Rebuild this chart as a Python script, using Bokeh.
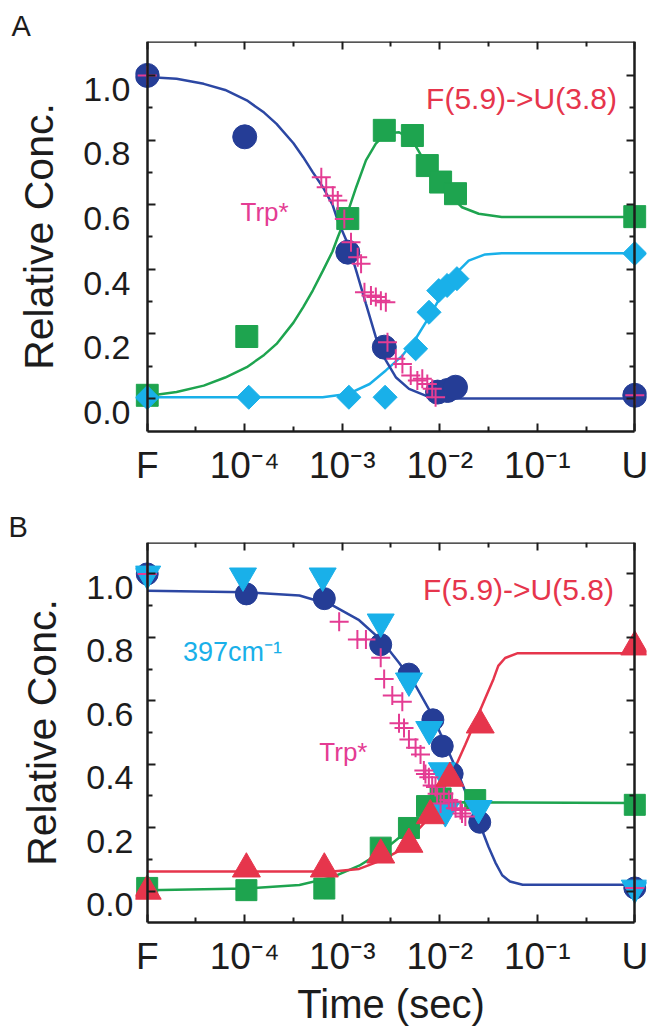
from bokeh.plotting import figure
from bokeh.models import (Range1d, LinearAxis, LogAxis, FixedTicker, Label, Title,
                          CustomJSTickFormatter)
from bokeh.layouts import column
from bokeh.embed import file_html
from bokeh.resources import INLINE

# ---------------- axis definitions ----------------
T_F = 1e-5      # position of the "F" (native) state on the time axis
T_U = 1.0       # position of the "U" (unfolded) state on the time axis
X_TICKS = [1e-5, 1e-4, 1e-3, 1e-2, 1e-1, 1.0]
X_MINOR = [3.16e-5, 3.16e-4, 3.16e-3, 3.16e-2, 0.316]
X_LABELS = ["F", "10\u207b\u2074", "10\u207b\u00b3", "10\u207b\u00b2", "10\u207b\u00b9", "U"]
Y_TICKS = [0.0, 0.2, 0.4, 0.6, 0.8, 1.0]
Y_MINOR = [0.1, 0.3, 0.5, 0.7, 0.9]
Y_LABELS = ["0.0", "0.2", "0.4", "0.6", "0.8", "1.0"]

# ---------------- panel A data ----------------
a_circ_t = [T_F, 1.0e-4, 1.14e-3, 2.7e-3, 9.5e-3, 1.2e-2, 1.45e-2, T_U]
a_circ_y = [1.0, 0.81, 0.453, 0.159, 0.02, 0.025, 0.035, 0.01]

a_sq_t = [T_F, 1.05e-4, 1.14e-3, 2.7e-3, 5.24e-3, 7.45e-3, 1.02e-2, 1.45e-2, T_U]
a_sq_y = [0.01, 0.192, 0.557, 0.83, 0.814, 0.721, 0.67, 0.634, 0.563]

a_dia_t = [T_F, 1.1e-4, 1.17e-3, 2.75e-3, 5.66e-3, 7.76e-3, 9.77e-3, 1.19e-2, 1.5e-2, T_U]
a_dia_y = [0.003, 0.004, 0.004, 0.004, 0.154, 0.267, 0.334, 0.35, 0.371, 0.449]

a_trp_t = [T_F, 6.1e-4, 6.85e-4, 8.0e-4, 9.0e-4, 1.05e-3, 1.23e-3, 1.44e-3, 1.56e-3,
           1.69e-3, 1.97e-3, 2.21e-3, 2.49e-3, 2.8e-3, 2.91e-3, 3.54e-3, 4.14e-3,
           5.04e-3, 5.89e-3, 6.62e-3, 7.45e-3, 8.37e-3, 9.06e-3, T_U]
a_trp_y = [1.0, 0.685, 0.654, 0.628, 0.613, 0.556, 0.484, 0.437, 0.417,
           0.329, 0.319, 0.314, 0.303, 0.298, 0.174, 0.123, 0.107,
           0.071, 0.056, 0.061, 0.045, 0.03, 0.004, 0.01]

a_fitF_t = [T_F, 2.0e-5, 3.8e-5, 6.3e-5, 1.05e-4, 1.58e-4, 2.12e-4, 3.16e-4, 3.98e-4,
            5.0e-4, 6.34e-4, 7.94e-4, 9.0e-4, 1.14e-3, 1.39e-3, 1.75e-3, 2.21e-3,
            2.8e-3, 3.54e-3, 4.84e-3, 7.16e-3, 1.34e-2, T_U]
a_fitF_y = [0.995, 0.99, 0.974, 0.955, 0.923, 0.885, 0.85, 0.79, 0.747,
            0.70, 0.654, 0.60, 0.551, 0.479, 0.396, 0.293, 0.19,
            0.118, 0.066, 0.03, 0.009, 0.0, 0.0]

a_fitI_t = [T_F, 2.0e-5, 3.8e-5, 6.3e-5, 1.05e-4, 1.58e-4, 2.12e-4, 3.16e-4, 3.98e-4,
            5.0e-4, 6.34e-4, 7.94e-4, 9.0e-4, 1.14e-3, 1.39e-3, 1.75e-3, 2.21e-3,
            2.8e-3, 3.83e-3, 5.24e-3, 6.89e-3, 9.06e-3, 1.24e-2, 1.69e-2, 2.51e-2,
            4.32e-2, T_U]
a_fitI_y = [0.008, 0.02, 0.04, 0.065, 0.097, 0.135, 0.169, 0.235, 0.283,
            0.335, 0.396, 0.455, 0.499, 0.577, 0.654, 0.737, 0.789,
            0.82, 0.824, 0.799, 0.737, 0.685, 0.634, 0.592, 0.572,
            0.562, 0.562]

a_fitU_t = [T_F, 6.3e-4, 1.17e-3, 1.91e-3, 2.8e-3, 4.14e-3, 5.66e-3, 7.76e-3,
            1.06e-2, 1.45e-2, 1.98e-2, 2.92e-2, 4.32e-2, T_U]
a_fitU_y = [0.004, 0.004, 0.015, 0.045, 0.087, 0.133, 0.185, 0.252,
            0.324, 0.386, 0.427, 0.446, 0.45, 0.45]

# ---------------- panel B data ----------------
b_circ_t = [T_F, 1.04e-4, 6.55e-4, 2.48e-3, 4.83e-3, 8.5e-3, 1.06e-2, 1.34e-2, 2.57e-2, T_U]
b_circ_y = [1.0, 0.937, 0.922, 0.777, 0.684, 0.54, 0.457, 0.37, 0.217, 0.01]

b_tri_t = [T_F, 9.6e-5, 6.3e-4, 2.48e-3, 4.83e-3, 7.8e-3, 1.05e-2, 1.14e-2, 2.5e-2, T_U]
b_tri_y = [1.0, 0.994, 0.994, 0.849, 0.663, 0.51, 0.38, 0.251, 0.261, 0.01]

b_sq_t = [T_F, 1.04e-4, 6.55e-4, 2.48e-3, 4.83e-3, 7.4e-3, 1.02e-2, 2.31e-2, T_U]
b_sq_y = [0.01, 0.003, 0.008, 0.137, 0.199, 0.268, 0.292, 0.287, 0.272]

b_red_t = [T_F, 1.04e-4, 6.55e-4, 2.48e-3, 4.83e-3, 8.0e-3, 1.27e-2, 2.6e-2, T_U]
b_red_y = [0.0, 0.07, 0.07, 0.114, 0.148, 0.238, 0.356, 0.524, 0.77]

b_trp_t = [T_F, 9.3e-4, 1.43e-3, 1.75e-3, 2.48e-3, 2.69e-3, 3.26e-3, 4.13e-3, 3.82e-3,
           4.3e-3, 4.83e-3, 5.65e-3, 6.35e-3, 6.87e-3, 7.13e-3, 7.73e-3, 8.36e-3,
           9.04e-3, 9.4e-3, 1.02e-2, 1.1e-2, 1.24e-2, 1.34e-2, 1.45e-2, 1.63e-2,
           1.69e-2, 1.83e-2, T_U]
b_trp_y = [1.0, 0.849, 0.793, 0.793, 0.736, 0.669, 0.617, 0.597, 0.529,
           0.514, 0.478, 0.452, 0.431, 0.38, 0.369, 0.359, 0.333,
           0.328, 0.307, 0.276, 0.307, 0.287, 0.282, 0.261, 0.256,
           0.245, 0.235, 0.01]

b_fitF_t = [T_F, 1.04e-4, 3.64e-4, 7.96e-4, 1.49e-3, 2.48e-3, 3.82e-3, 5.65e-3,
            8.36e-3, 1.14e-2, 1.5e-2, 1.98e-2, 2.7e-2, 3.16e-2, 3.72e-2, 4.37e-2,
            5.25e-2, 7.08e-2, T_U]
b_fitF_y = [0.947, 0.942, 0.932, 0.901, 0.854, 0.793, 0.72, 0.648,
            0.555, 0.462, 0.38, 0.287, 0.194, 0.14, 0.09, 0.05,
            0.03, 0.02, 0.02]

b_fitI_t = [T_F, 1.04e-4, 3.64e-4, 7.96e-4, 1.49e-3, 2.48e-3, 3.82e-3, 5.65e-3,
            8.36e-3, 1.14e-2, 1.56e-2, T_U]
b_fitI_y = [0.003, 0.008, 0.019, 0.044, 0.08, 0.122, 0.168, 0.215,
            0.256, 0.276, 0.28, 0.278]

b_fitU_t = [T_F, 7.96e-4, 1.49e-3, 2.48e-3, 3.82e-3, 5.65e-3, 7.73e-3, 9.04e-3,
            1.34e-2, 1.83e-2, 2.31e-2, 2.92e-2, 3.56e-2, 3.98e-2, 4.68e-2,
            6.31e-2, T_U]
b_fitU_y = [0.062, 0.062, 0.07, 0.096, 0.127, 0.185, 0.23, 0.28,
            0.369, 0.462, 0.534, 0.607, 0.669, 0.71, 0.735,
            0.75, 0.75]

# ---------------- styles ----------------
NAVY = "#253d96"
NAVY_L = "#2c47a3"
GREEN = "#1ea44f"
CYAN = "#19b0e9"
MAGENTA = "#e43c93"
RED = "#e6354c"
INK = "#1c1c1c"
FONT = "Liberation Sans"

empty_fmt = CustomJSTickFormatter(code="return ''")
x_fmt = CustomJSTickFormatter(args=dict(tv=X_TICKS, labs=X_LABELS), code="""
let best = 0, d = Infinity;
for (let i = 0; i < tv.length; i++) {
  const e = Math.abs(Math.log10(tv[i]) - Math.log10(tick));
  if (e < d) { d = e; best = i; }
}
return labs[best];
""")
y_fmt = CustomJSTickFormatter(args=dict(tv=Y_TICKS, labs=Y_LABELS), code="""
let best = 0, d = Infinity;
for (let i = 0; i < tv.length; i++) {
  const e = Math.abs(tv[i] - tick);
  if (e < d) { d = e; best = i; }
}
return labs[best];
""")


def tick_style(ax, labels=False):
    ax.axis_line_width = 2.5
    ax.axis_line_color = INK
    ax.major_tick_line_width = 2
    ax.minor_tick_line_width = 2
    ax.major_tick_line_color = INK
    ax.minor_tick_line_color = INK
    ax.major_tick_in = 8
    ax.major_tick_out = 0
    ax.minor_tick_in = 5
    ax.minor_tick_out = 0
    if not labels:
        ax.formatter = empty_fmt
        ax.major_label_text_font_size = "1px"
        ax.major_label_standoff = 0


def make_panel(height, yr, borders, lab_standoff, letter, letter_offset, xlabel=None):
    ml, mr, mt, mb = borders
    p = figure(width=651, height=height, x_axis_type="log",
               x_range=Range1d(10 ** -5.12, 10 ** 0.12), y_range=Range1d(*yr),
               x_axis_location=None, y_axis_location=None,
               output_backend="svg", toolbar_location=None,
               min_border_left=ml, min_border_right=mr,
               min_border_top=mt, min_border_bottom=mb)
    p.outline_line_color = None
    p.background_fill_color = "white"
    p.border_fill_color = "white"
    p.xgrid.visible = False
    p.ygrid.visible = False
    p.grid.visible = False

    # tick labels sit a little below their ticks in the original
    d = 0.043
    p.extra_y_ranges = {"ylab": Range1d(yr[0] + d, yr[1] + d)}
    lab = LinearAxis(y_range_name="ylab", ticker=FixedTicker(ticks=Y_TICKS),
                     formatter=y_fmt, axis_label="Relative Conc.")
    lab.axis_line_color = None
    lab.major_tick_line_color = None
    lab.minor_tick_line_color = None
    lab.major_tick_in = 0
    lab.major_tick_out = 0
    lab.minor_tick_in = 0
    lab.minor_tick_out = 0
    lab.major_label_standoff = lab_standoff
    lab.major_label_text_font = FONT
    lab.major_label_text_font_size = "34px"
    lab.major_label_text_color = INK
    lab.axis_label_text_font = FONT
    lab.axis_label_text_font_size = "41px"
    lab.axis_label_text_font_style = "normal"
    lab.axis_label_text_color = INK
    lab.axis_label_standoff = 18
    p.add_layout(lab, "left")

    yt = FixedTicker(ticks=Y_TICKS, minor_ticks=Y_MINOR)
    left = LinearAxis(ticker=yt, fixed_location=T_F)
    tick_style(left)
    p.add_layout(left, "left")
    right = LinearAxis(ticker=yt, fixed_location=T_U)
    tick_style(right)
    p.add_layout(right, "right")

    xt = FixedTicker(ticks=X_TICKS, minor_ticks=X_MINOR)
    bottom = LogAxis(ticker=xt, bounds=(T_F, T_U))
    tick_style(bottom, labels=True)
    bottom.formatter = x_fmt
    bottom.major_label_text_font = FONT
    bottom.major_label_text_font_size = "37px"
    bottom.major_label_text_color = INK
    bottom.major_label_standoff = 13
    if xlabel:
        bottom.axis_label = xlabel
        bottom.axis_label_text_font = FONT
        bottom.axis_label_text_font_size = "40px"
        bottom.axis_label_text_font_style = "normal"
        bottom.axis_label_text_color = INK
        bottom.axis_label_standoff = 2
    p.add_layout(bottom, "below")
    top = LogAxis(ticker=xt, bounds=(T_F, T_U), fixed_location=yr[1])
    tick_style(top)
    p.add_layout(top, "above")

    p.add_layout(Title(text=letter, align="left", offset=letter_offset, standoff=0,
                       text_font=FONT, text_font_size="29px", text_font_style="normal",
                       text_color=INK), "above")
    return p


def txt(p, x, y, s, color, size, align="left"):
    p.add_layout(Label(x=x, y=y, text=s, text_font=FONT, text_font_size=size,
                       text_color=color, text_align=align, text_baseline="alphabetic"))


# ---------------- panel A ----------------
pa = make_panel(508, (-0.102, 1.105), (131, 5, 41, 77), 5, "A", -124)
pa.line(a_fitI_t, a_fitI_y, line_color=GREEN, line_width=2.5)
pa.line(a_fitU_t, a_fitU_y, line_color=CYAN, line_width=2.5)
pa.line(a_fitF_t, a_fitF_y, line_color=NAVY_L, line_width=2.5)
pa.scatter(a_sq_t, a_sq_y, marker="square", size=22, fill_color=GREEN, line_color=GREEN)
pa.scatter(a_dia_t, a_dia_y, marker="square", angle=0.7854, size=17,
           fill_color=CYAN, line_color=CYAN)
pa.scatter(a_circ_t, a_circ_y, marker="circle", size=24, fill_color=NAVY, line_color=NAVY)
pa.scatter(a_trp_t, a_trp_y, marker="cross", size=19, line_color=MAGENTA, line_width=2)
txt(pa, 0.656, 0.929, "F(5.9)->U(3.8)", RED, "30px", align="right")
txt(pa, 9.06e-5, 0.576, "Trp*", MAGENTA, "26px")

# ---------------- panel B ----------------
pb = make_panel(520, (-0.099, 1.099), (135, 2, 33, 100), 2, "B", -127, xlabel="Time (sec)")
pb.line(b_fitI_t, b_fitI_y, line_color=GREEN, line_width=2.5)
pb.line(b_fitU_t, b_fitU_y, line_color=RED, line_width=2.5)
pb.line(b_fitF_t, b_fitF_y, line_color=NAVY_L, line_width=2.5)
pb.scatter(b_sq_t, b_sq_y, marker="square", size=21, fill_color=GREEN, line_color=GREEN)
pb.scatter(b_circ_t, b_circ_y, marker="circle", size=22, fill_color=NAVY, line_color=NAVY)
pb.scatter(b_tri_t, b_tri_y, marker="inverted_triangle", size=27, fill_color=CYAN, line_color=CYAN)
pb.scatter(b_trp_t, b_trp_y, marker="cross", size=19, line_color=MAGENTA, line_width=2)
pb.scatter(b_red_t, b_red_y, marker="triangle", size=28, fill_color=RED, line_color=RED)
txt(pb, 0.611, 0.95, "F(5.9)->U(5.8)", RED, "30px", align="right")
txt(pb, 5.82e-4, 0.437, "Trp*", MAGENTA, "26px")
txt(pb, 2.33e-5, 0.755, "397cm\u207b\u00b9", CYAN, "27px")

layout = column(pa, pb, spacing=0)
open("out.html", "w").write(file_html(layout, INLINE))
